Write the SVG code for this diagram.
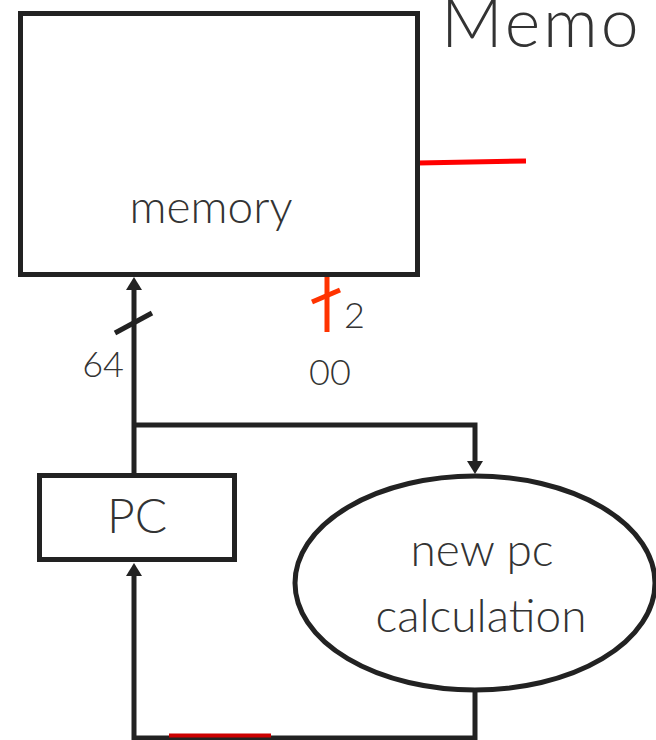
<svg xmlns="http://www.w3.org/2000/svg" width="656" height="740" viewBox="0 0 656 740">
<defs>
<marker id="arr" markerUnits="userSpaceOnUse" markerWidth="13" markerHeight="16" refX="0" refY="8" orient="auto" viewBox="0 0 13 16">
<path d="M0,0 L13,8 L0,16 Z" fill="#222"/>
</marker>
</defs>
<style>
.ln{fill:none;stroke:#222;stroke-width:5;}
.box{fill:#fff;stroke:#222;stroke-width:5;}
.t{font-family:Lato,"Noto Sans","Liberation Sans",sans-serif;font-weight:300;fill:#333;}
.red{stroke:#f00;stroke-width:5;fill:none;}
.org{stroke:#ff3300;stroke-width:5;fill:none;}
</style>
<g id="title"><text class="t" x="441" y="47" font-size="68" letter-spacing="3">Memo</text></g>
<g id="connectors">
<path class="ln" d="M134,475 L134,290" marker-end="url(#arr)"/>
<path class="ln" d="M134,425 L475,425 L475,461" marker-end="url(#arr)"/>
<path class="ln" d="M475,690 L475,738 L134,738 L134,576" marker-end="url(#arr)"/>
<line class="ln" x1="115" y1="333" x2="152" y2="313"/>
<line class="red" x1="418" y1="163" x2="526" y2="161"/>
<line class="org" x1="327" y1="277" x2="327" y2="332"/>
<line class="org" x1="312" y1="302" x2="340" y2="290"/>
<line x1="169" y1="735.5" x2="271" y2="735.5" stroke="#c00" stroke-width="4"/>
</g>
<g id="memory">
<rect class="box" x="20.5" y="13.5" width="397" height="261"/>
<text class="t" x="211" y="223" font-size="46" text-anchor="middle">memory</text>
</g>
<g id="pc">
<rect class="box" x="39.5" y="475.5" width="195" height="84"/>
<text class="t" x="137" y="533" font-size="48" text-anchor="middle">PC</text>
</g>
<g id="newpc">
<ellipse class="box" cx="475" cy="583" rx="180" ry="107"/>
<text class="t" x="482" y="566" font-size="46" text-anchor="middle">new pc</text>
<text class="t" x="481" y="632" font-size="46" text-anchor="middle">calculation</text>
</g>
<g id="labels">
<text class="t" x="124" y="377" font-size="36" text-anchor="end">64</text>
<text class="t" x="344" y="328" font-size="36">2</text>
<text class="t" x="309" y="385" font-size="36">00</text>
</g>
</svg>
